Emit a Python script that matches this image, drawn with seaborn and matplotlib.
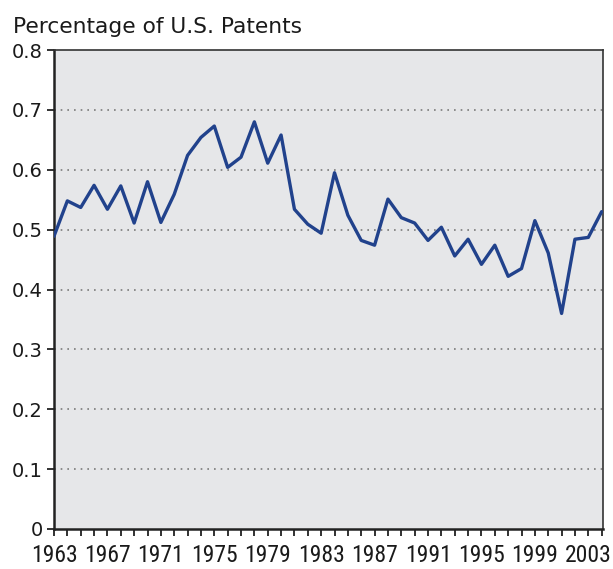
import numpy as np
import pandas as pd
import matplotlib
matplotlib.use("Agg")
import matplotlib.pyplot as plt
import seaborn as sns

years = list(range(1963, 2005))
share = [0.489, 0.548, 0.537, 0.574, 0.534, 0.573, 0.511, 0.580, 0.512, 0.559,
         0.624, 0.654, 0.673, 0.604, 0.621, 0.680, 0.611, 0.658, 0.534, 0.509,
         0.494, 0.595, 0.524, 0.482, 0.474, 0.551, 0.520, 0.511, 0.482, 0.504,
         0.456, 0.484, 0.442, 0.474, 0.422, 0.435, 0.515, 0.461, 0.360, 0.484,
         0.487, 0.530]
tick_years = list(range(1963, 2004, 4))
y_ticks = [0, 0.1, 0.2, 0.3, 0.4, 0.5, 0.6, 0.7, 0.8]

df = pd.DataFrame({"year": years, "share": share})

sns.set_style("white")
plt.rcParams["font.family"] = ["DejaVu Sans"]

fig = plt.figure(figsize=(6.13, 5.69), dpi=100)
ax = fig.add_axes([54/613, 40/569, 549/613, 479/569])
ax.set_facecolor("#e6e7e9")

for v in y_ticks[1:-1]:
    ax.axhline(v, color="#7a7a7a", lw=1.2, ls=(0, (1, 3)), zorder=1)

sns.lineplot(data=df, x="year", y="share", color="#21428c", lw=2.4, ax=ax, zorder=3)

ax.set_xlim(1963, 2004.1)
ax.set_ylim(0, 0.8)
ax.set_xticks(years, minor=True)
ax.set_xticks(tick_years)
ax.set_xticklabels([str(y) for y in tick_years], family=["Roboto Condensed", "DejaVu Sans"], fontsize=17)
ax.set_yticks(y_ticks)
ax.set_yticklabels(["0"] + ["%.1f" % v for v in y_ticks[1:]], fontsize=14)
ax.tick_params(axis="both", which="both", direction="out", length=5, width=1.3,
               color="#222222", labelcolor="#1a1a1a", bottom=True, left=True)
ax.tick_params(axis="x", which="both", pad=5.5)
ax.tick_params(axis="y", pad=3)
ax.set_xlabel("")
ax.set_ylabel("")

for s in ["left", "bottom"]:
    ax.spines[s].set_color("#222222")
    ax.spines[s].set_linewidth(1.8)
for s in ["top", "right"]:
    ax.spines[s].set_color("#333333")
    ax.spines[s].set_linewidth(1.2)

fig.text(13/613, 1 - 33/569, "Percentage of U.S. Patents", fontsize=15.7,
         color="#1a1a1a", va="baseline", ha="left")

fig.savefig("out.png", dpi=100, facecolor="white")
